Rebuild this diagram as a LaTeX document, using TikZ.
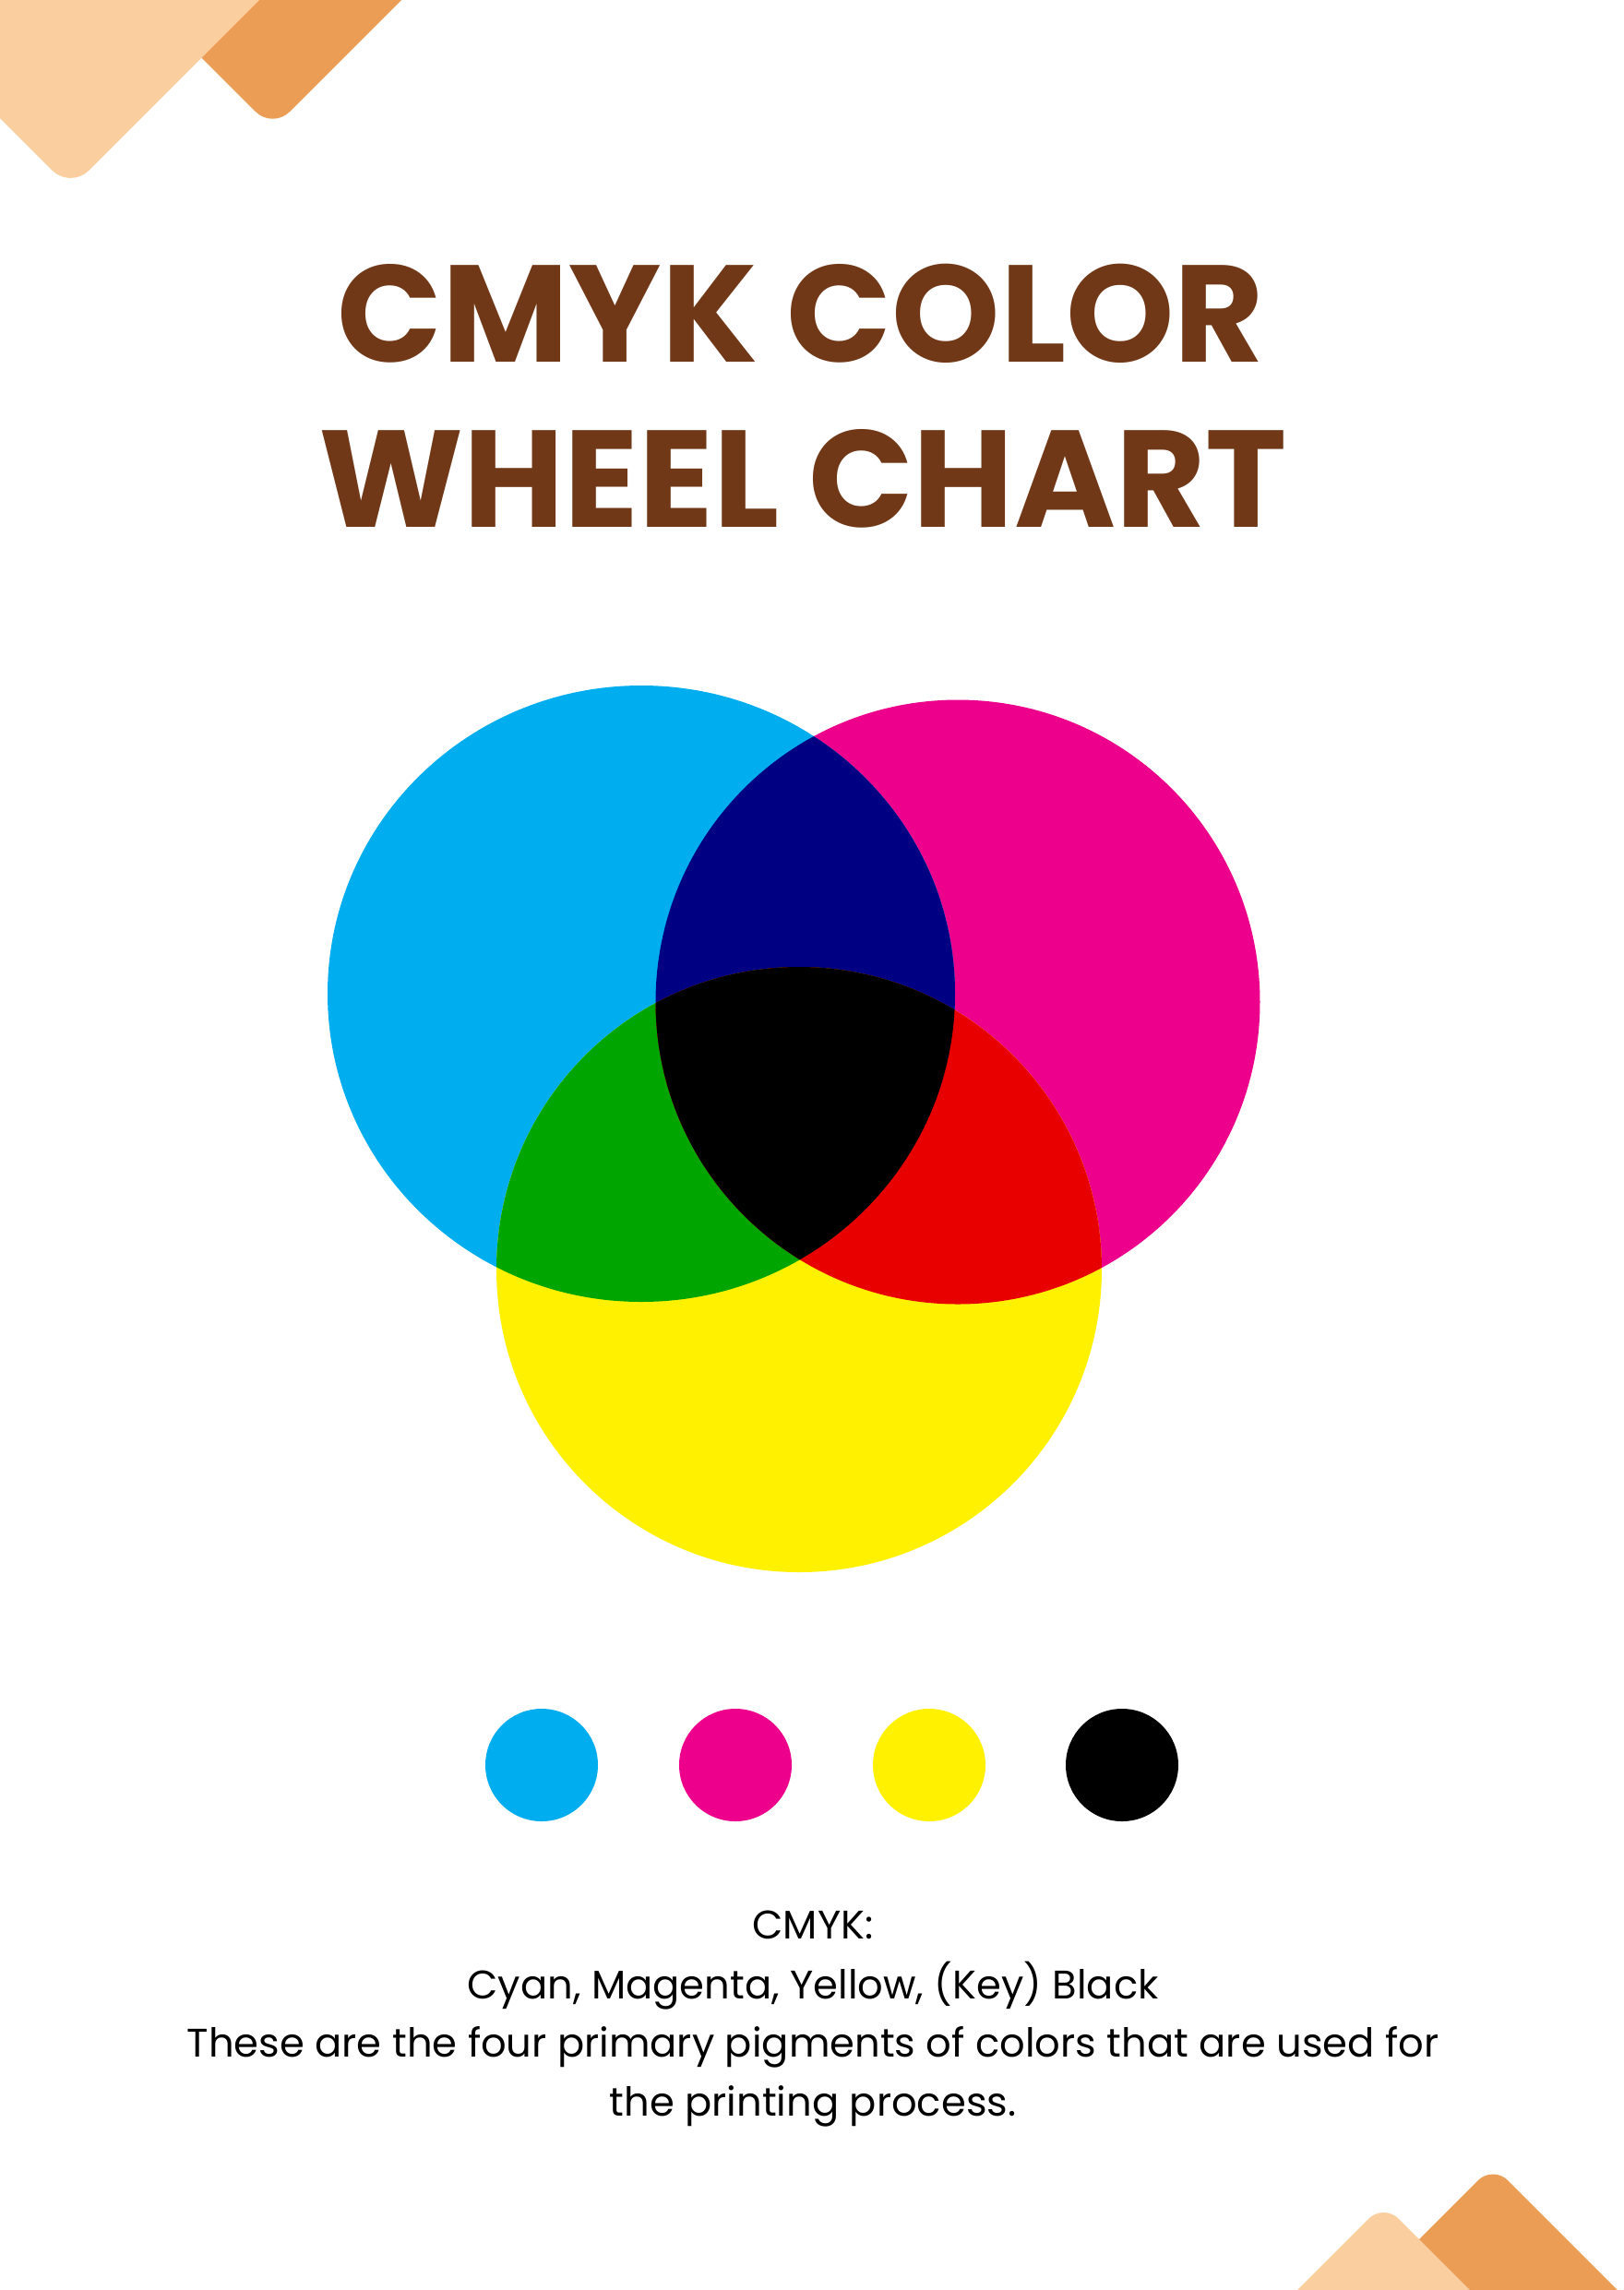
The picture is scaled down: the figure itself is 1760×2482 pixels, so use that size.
\documentclass[tikz,border=0pt]{standalone}
\usepackage{fontspec}
\setmainfont{Poppins}
\usepackage{tikz}
\definecolor{cyanC}{HTML}{00AEEF}
\definecolor{magentaC}{HTML}{EC008C}
\definecolor{yellowC}{HTML}{FFF100}
\definecolor{navyC}{HTML}{000082}
\definecolor{greenC}{HTML}{00A500}
\definecolor{redC}{HTML}{E80000}
\definecolor{titlebrown}{HTML}{703816}
\definecolor{peachlight}{HTML}{FACE9E}
\definecolor{peachdark}{HTML}{EB9C55}
\tikzset{every picture/.append style={x=0.1mm, y=-0.1mm}}
\tikzset{
  dot/.style={circle, minimum size=12.2mm, inner sep=0pt},
  title/.style={anchor=base, text=titlebrown,
    font=\fontsize{42.5pt}{51pt}\selectfont\bfseries},
  body/.style={anchor=base, text=black,
    font=\fontsize{12.3pt}{18pt}\selectfont}
}

\begin{document}
\begin{tikzpicture}
  \useasboundingbox (0,0) rectangle (1760,2482);
  \fill[white] (0,0) rectangle (1760,2482);
  \clip (0,0) rectangle (1760,2482);

  % corner tiles
  \fill[peachdark, rounded corners=2.6mm] (295.5,139.5) -- ++(700,-700)
    -- ++(-700,-700) -- ++(-700,700) -- cycle;
  \fill[peachlight, rounded corners=2.8mm] (76.5,204.5) -- ++(700,-700)
    -- ++(-700,-700) -- ++(-700,700) -- cycle;
  \fill[peachdark, rounded corners=2.3mm] (1618,2347) -- ++(700,700)
    -- ++(-700,700) -- ++(-700,-700) -- cycle;
  \fill[peachlight, rounded corners=2.3mm] (1499.5,2388.5) -- ++(700,700)
    -- ++(-700,700) -- ++(-700,-700) -- cycle;

  % title
  \node[title] (t1) at (868,392) {CMYK COLOR};
  \node[title] (t2) at (870,571) {WHEEL CHART};

  % the three discs
  \coordinate (cC) at (695,1077);
  \coordinate (cM) at (1038,1086);
  \coordinate (cY) at (866,1376);
  \def\cyanshape{(cC) ellipse (34mm and 33.4mm)}
  \def\magshape{(cM) circle (32.75mm)}
  \def\yelshape{(cY) circle (32.8mm)}
  \fill[magentaC] \magshape;
  \fill[cyanC] \cyanshape;
  \fill[yellowC] \yelshape;
  \begin{scope}
    \clip \cyanshape;
    \fill[navyC] \magshape;
    \fill[greenC] \yelshape;
  \end{scope}
  \begin{scope}
    \clip \magshape;
    \fill[redC] \yelshape;
    \clip \cyanshape;
    \fill[black] \yelshape;
  \end{scope}

  % swatches
  \node[dot, fill=cyanC] (sC) at (587,1913) {};
  \node[dot, fill=magentaC] (sM) at (797,1913) {};
  \node[dot, fill=yellowC] (sY) at (1007,1913) {};
  \node[dot, fill=black] (sK) at (1216,1913) {};

  % caption
  \node[body] (l1) at (881,2101) {CMYK:};
  \node[body] (l2) at (881,2166) {Cyan, Magenta, Yellow, (Key) Black};
  \node[body] (l3) at (881,2229) {These are the four primary pigments of colors that are used for};
  \node[body] (l4) at (881,2293) {the printing process.};
\end{tikzpicture}
\end{document}
